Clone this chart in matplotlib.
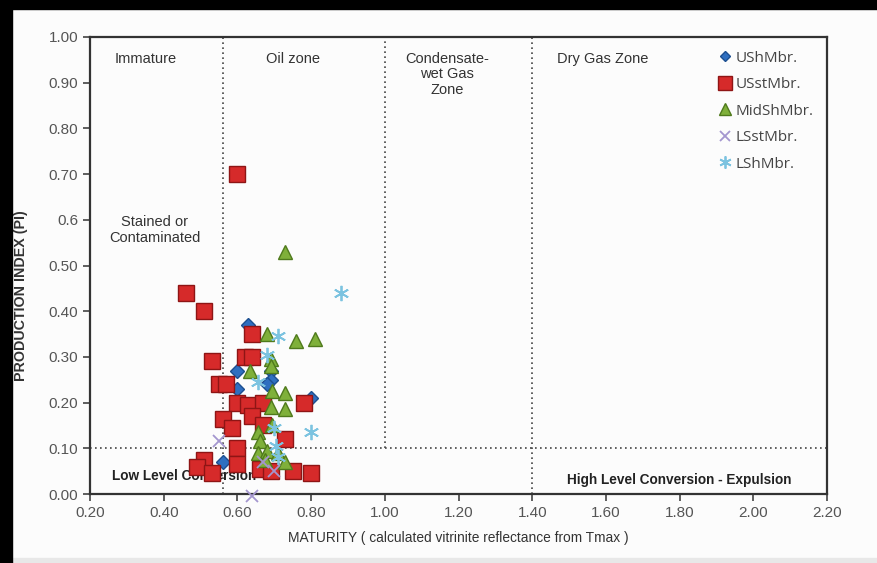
import matplotlib.pyplot as plt
from matplotlib.patches import Rectangle

plt.rcParams['font.family'] = ['Liberation Sans', 'DejaVu Sans']

# data
ush_x = [0.63, 0.60, 0.69, 0.69, 0.60, 0.68, 0.80, 0.56]
ush_y = [0.37, 0.27, 0.27, 0.25, 0.23, 0.24, 0.21, 0.07]

usst_x = [0.60, 0.46, 0.51, 0.64, 0.53, 0.62, 0.64, 0.55, 0.57, 0.60, 0.63, 0.67,
          0.78, 0.56, 0.585, 0.64, 0.67, 0.73, 0.60, 0.51, 0.49, 0.53, 0.60, 0.66,
          0.69, 0.75, 0.80]
usst_y = [0.70, 0.44, 0.40, 0.35, 0.29, 0.30, 0.30, 0.24, 0.24, 0.20, 0.195, 0.20,
          0.20, 0.165, 0.145, 0.17, 0.15, 0.12, 0.10, 0.075, 0.06, 0.045, 0.065, 0.055,
          0.05, 0.05, 0.045]

mid_x = [0.68, 0.76, 0.81, 0.73, 0.69, 0.635, 0.69, 0.695, 0.73, 0.69, 0.73, 0.695,
         0.655, 0.66, 0.655, 0.68, 0.71, 0.675, 0.73]
mid_y = [0.35, 0.335, 0.34, 0.53, 0.295, 0.27, 0.28, 0.225, 0.22, 0.19, 0.185, 0.15,
         0.135, 0.115, 0.09, 0.095, 0.09, 0.075, 0.07]

lsst_x = [0.55, 0.64, 0.67, 0.70]
lsst_y = [0.115, -0.005, 0.07, 0.05]

lsh_x = [0.88, 0.71, 0.80, 0.68, 0.655, 0.70, 0.705, 0.71]
lsh_y = [0.44, 0.345, 0.135, 0.305, 0.245, 0.145, 0.105, 0.08]

x_ticks = [0.2, 0.4, 0.6, 0.8, 1.0, 1.2, 1.4, 1.6, 1.8, 2.0, 2.2]
x_labels = ['0.20', '0.40', '0.60', '0.80', '1.00', '1.20', '1.40', '1.60', '1.80', '2.00', '2.20']
y_ticks = [0.0, 0.1, 0.2, 0.3, 0.4, 0.5, 0.6, 0.7, 0.8, 0.9, 1.0]
y_labels = ['0.00', '0.10', '0.20', '0.30', '0.40', '0.50', '0.6', '0.70', '0.80', '0.90', '1.00']

fig = plt.figure(figsize=(8.77, 5.63), dpi=100, facecolor='#fcfcfc')
ax = fig.add_axes([90 / 877, 69 / 563, 737 / 877, 457 / 563])
ax.set_facecolor('#fcfcfc')

# zone boundaries
dot = dict(color='#444444', linestyle=(0, (1, 2)), linewidth=1.2, zorder=1)
ax.axvline(0.56, **dot)
ax.plot([1.0, 1.0], [0.1, 1.0], **dot)
ax.axvline(1.4, **dot)
ax.axhline(0.1, **dot)

ax.plot(ush_x, ush_y, 'D', color='#2f6fc0', mec='#1d4f90', ms=7, label='UShMbr.', zorder=3)
ax.plot(usst_x, usst_y, 's', color='#d62a2a', mec='#8e1515', ms=12, label='USstMbr.', zorder=4)
ax.plot(mid_x, mid_y, '^', color='#7fb03a', mec='#4f7a1c', ms=10.5, label='MidShMbr.', zorder=5)
ax.plot(lsst_x, lsst_y, 'x', color='#a496cf', ms=9, mew=1.3, label='LSstMbr.', zorder=6,
        clip_on=False)
ax.plot(lsh_x, lsh_y, marker=(6, 2, 0), ls='none', color='#7cc3e0', ms=11, mew=1.3,
        label='LShMbr.', zorder=6)

ax.set_xlim(0.2, 2.2)
ax.set_ylim(0, 1.0)
ax.set_xticks(x_ticks)
ax.set_xticklabels(x_labels)
ax.set_yticks(y_ticks)
ax.set_yticklabels(y_labels)
ax.tick_params(direction='out', length=5, width=1.2, color='#444444', labelcolor='#555555',
               labelsize=11)
for s in ax.spines.values():
    s.set_color('#333333')
    s.set_linewidth(1.6)

txt = dict(fontsize=10.5, color='#333333', ha='center', va='top')
ax.text(0.35, 0.968, 'Immature', **txt)
ax.text(0.75, 0.968, 'Oil zone', **txt)
ax.text(1.17, 0.968, 'Condensate-\nwet Gas\nZone', linespacing=1.15, **txt)
ax.text(1.59, 0.968, 'Dry Gas Zone', **txt)
ax.text(0.375, 0.61, 'Stained or\nContaminated', linespacing=1.15, **txt)
ax.text(0.26, 0.04, 'Low Level Conversion', fontsize=9.8, fontweight='bold', color='#222222',
        va='center', zorder=3.5)
ax.text(1.80, 0.03, 'High Level Conversion - Expulsion', fontsize=9.8, fontweight='bold',
        color='#222222', ha='center', va='center')

ax.set_xlabel('MATURITY ( calculated vitrinite reflectance from Tmax )', fontsize=9.9,
              color='#333333', labelpad=8)
ax.set_ylabel('PRODUCTION INDEX (PI)', fontsize=10.3, fontweight='bold', color='#333333')
ax.yaxis.set_label_coords(-0.084, 0.435)

leg = ax.legend(loc='upper right', frameon=False, labelspacing=0.75,
                handletextpad=0.1, handlelength=1.2, borderaxespad=0.5,
                prop={'family': 'Open Sans', 'size': 11}, markerscale=0.8)
for t in leg.get_texts():
    t.set_color('#444444')

# black border strips of the screenshot
fig.patches.append(Rectangle((0, 0), 12 / 877, 1, transform=fig.transFigure,
                             color='black', zorder=10))
fig.patches.append(Rectangle((0, 1 - 9 / 563), 1, 9 / 563, transform=fig.transFigure,
                             color='black', zorder=10))
fig.patches.append(Rectangle((0, 0), 1, 5 / 563, transform=fig.transFigure,
                             color='#e8e8e8', zorder=9))

fig.savefig('out.png', dpi=100, facecolor=fig.get_facecolor())
